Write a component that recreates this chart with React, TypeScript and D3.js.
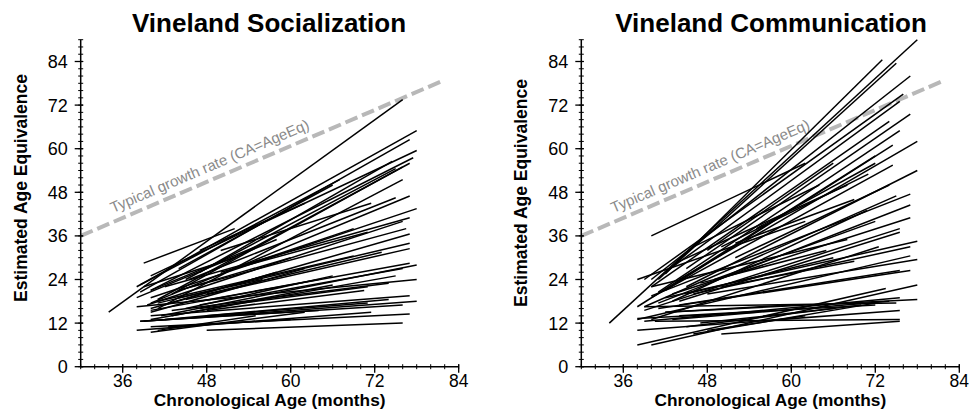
import * as d3 from 'd3';

const WIDTH = 969, HEIGHT = 413;

// each row: [start age, start AE, end age, end AE] in months
const socializationLines = [
  [34, 15, 76, 73.5],
  [39, 28.5, 52, 38],
  [38, 22, 78, 65],
  [38.5, 20.5, 77, 62.5],
  [40, 25, 78, 59.5],
  [40, 21, 77.5, 57.5],
  [41, 18.5, 77, 56],
  [43, 20, 76, 55],
  [45, 24, 75, 54.5],
  [47, 26, 74.5, 56.5],
  [41, 16, 76, 51.5],
  [38.5, 22.5, 67, 51.5],
  [44, 27, 66, 50],
  [47, 32, 62, 45],
  [45.5, 24, 75, 46.5],
  [40, 17.5, 77, 47],
  [50, 32, 71.5, 45],
  [40, 19, 78, 43.5],
  [42, 22, 77, 41],
  [39.5, 17, 76, 40],
  [44, 21, 76.5, 38],
  [40, 16, 77, 36.5],
  [50, 26, 71, 37],
  [52, 27, 69, 38],
  [41, 17.5, 77, 34],
  [45, 18.5, 77, 32.5],
  [48, 20, 73, 31.5],
  [41, 18, 69, 30.5],
  [41.5, 14, 78, 28],
  [40, 15.5, 77, 28.5],
  [47, 17, 76, 27],
  [40, 13, 75, 25],
  [43, 15.5, 74, 23],
  [38, 16.5, 78, 24],
  [47, 16, 71, 22],
  [48, 15.5, 70.5, 21],
  [43, 14, 66, 22.5],
  [42, 13, 74, 18.5],
  [39, 12.5, 78, 18],
  [40, 14, 77, 19.5],
  [38.5, 12.5, 76, 17],
  [48, 14, 71, 17.5],
  [40, 11, 77, 14.5],
  [38, 10, 71.5, 15],
  [48, 10, 76, 12],
  [40, 9.5, 62, 15],
  [41, 10, 55, 14],
  [42.5, 11, 60, 13],
  [38.5, 12.5, 64, 15.5],
  [38, 19, 58, 35],
  [40, 21, 55, 33],
  [39, 22, 52, 30],
  [44, 21, 60, 30],
  [40, 15, 62, 27],
  [42, 17, 58, 26],
  [44, 19, 56, 24],
  [47, 18, 64, 24],
  [45, 16, 66, 25],
];

const communicationLines = [
  [34, 12, 78, 90],
  [40, 36, 62, 56],
  [42, 25.5, 73, 84.5],
  [41, 24, 75, 83.5],
  [40, 24, 77, 80],
  [39, 24, 76, 75],
  [42, 26, 75.5, 73],
  [45, 27, 77, 69.5],
  [40, 22, 74, 67.5],
  [41, 20.5, 75.5, 65],
  [42, 21, 74.5, 61],
  [44, 24, 78, 62],
  [48, 32, 66, 56],
  [40, 19, 74.5, 55.5],
  [45, 22, 78, 54],
  [38, 16.5, 72, 58],
  [50, 33, 71, 53],
  [43, 18, 70.8, 43],
  [39, 16.5, 75, 47],
  [40, 19.5, 77, 47.5],
  [41, 17.5, 77, 44.5],
  [43, 20, 77, 41],
  [39, 15.5, 75.5, 38],
  [44, 18, 75.5, 37],
  [40, 13, 72.5, 33],
  [42, 19, 78, 34.5],
  [46, 20, 77, 33],
  [38, 13, 77, 30.5],
  [48, 20, 78, 29.5],
  [41, 16, 77, 26.5],
  [44, 17, 75.5, 26.5],
  [50, 22, 69, 29],
  [38, 6, 73.5, 21.5],
  [40, 6, 78, 22.5],
  [42, 15, 78, 18.5],
  [39, 12.5, 75.5, 19],
  [38, 10, 75.5, 15.5],
  [40.5, 12.5, 75.5, 13],
  [46, 9, 72, 17.5],
  [50, 9, 75.5, 12.5],
  [43, 13, 74, 18],
  [45, 11, 70, 17],
  [47, 12, 66, 16],
  [44, 14, 72, 17],
  [39, 16.5, 75, 17.5],
  [42, 15, 60, 17],
  [48, 10, 62, 14],
  [38, 13.3, 55, 15],
  [40, 22, 68, 35],
  [45, 20, 66, 30],
  [47, 23, 65, 32],
  [49, 24, 72, 40],
  [52, 30, 74, 50],
  [44, 29, 68, 50],
  [46, 33, 64, 50],
  [38, 24, 62, 40],
  [52, 34, 69, 46],
  [55, 38, 72, 56],
];

const typicalLine = [[30, 36], [81.5, 78.5]];
const xMajor = [36, 48, 60, 72, 84];
const yMajor = [0, 12, 24, 36, 48, 60, 72, 84];
const xMinor = d3.range(30, 85, 2);
const yMinor = d3.range(0, 91, 2);

const panels = [
  { title: 'Vineland Socialization', lines: socializationLines, left: 80.7, titleX: 269, ylabX: 26.5, ylabY: 188 },
  { title: 'Vineland Communication', lines: communicationLines, left: 581.3, titleX: 771, ylabX: 527, ylabY: 193 },
];

const FONT = 'Liberation Sans, Arial, Helvetica, sans-serif';

const Panel = ({ p }: { p: any }) => {
  const x = d3.scaleLinear().domain([30, 84]).range([p.left, p.left + 378]);
  const y = d3.scaleLinear().domain([0, 90]).range([366.7, 39.7]);
  const line = d3.line<number[]>().x((d) => x(d[0])).y((d) => y(d[1]));
  const [a, b] = typicalLine;
  const ang = (Math.atan2(y(b[1]) - y(a[1]), x(b[0]) - x(a[0])) * 180) / Math.PI;
  const tx = 34.6;
  const ty = a[1] + ((b[1] - a[1]) / (b[0] - a[0])) * (tx - a[0]);
  return (
    <g>
      <text x={p.titleX} y={31.5} textAnchor="middle" fontFamily={FONT} fontWeight="bold" fontSize={26}>
        {p.title}
      </text>
      <path d={line(typicalLine as any) || ''} stroke="#b8b8b8" strokeWidth={4} strokeDasharray="13 5" fill="none" />
      <g transform={`translate(${x(tx)},${y(ty) - 9}) rotate(${ang})`}>
        <text fontFamily={FONT} fontSize={15} fill="#8a8a8a">Typical growth rate (CA=AgeEq)</text>
      </g>
      {p.lines.map((l: number[], i: number) => (
        <path key={i} d={line([[l[0], l[1]], [l[2], l[3]]]) || ''} stroke="#000" strokeWidth={1.5} fill="none" />
      ))}
      {/* axes */}
      <line x1={x(30)} x2={x(84)} y1={y(0)} y2={y(0)} stroke="#000" strokeWidth={1.5} />
      <line x1={x(30)} x2={x(30)} y1={y(0)} y2={y(90)} stroke="#000" strokeWidth={1.5} />
      {xMinor.map((v) => (
        <line key={'xm' + v} x1={x(v)} x2={x(v)} y1={y(0) - 2.5} y2={y(0) + 2.5} stroke="#000" strokeWidth={1} />
      ))}
      {yMinor.map((v) => (
        <line key={'ym' + v} x1={x(30) - 2.5} x2={x(30) + 2.5} y1={y(v)} y2={y(v)} stroke="#000" strokeWidth={1} />
      ))}
      {xMajor.map((v) => (
        <g key={'xM' + v}>
          <line x1={x(v)} x2={x(v)} y1={y(0) - 2.5} y2={y(0) + 6} stroke="#000" strokeWidth={1.3} />
          <text x={x(v)} y={387} textAnchor="middle" fontFamily={FONT} fontSize={17.5}>{v}</text>
        </g>
      ))}
      {yMajor.map((v) => (
        <g key={'yM' + v}>
          <line x1={x(30) - 6} x2={x(30) + 2.5} y1={y(v)} y2={y(v)} stroke="#000" strokeWidth={1.3} />
          <text x={x(30) - 13} y={y(v) + 6.5} textAnchor="end" fontFamily={FONT} fontSize={18}>{v}</text>
        </g>
      ))}
      <text x={x(57)} y={406} textAnchor="middle" fontFamily={FONT} fontWeight="bold" fontSize={17.3}>
        Chronological Age (months)
      </text>
      <text transform={`translate(${p.ylabX},${p.ylabY}) rotate(-90)`} textAnchor="middle" fontFamily={FONT} fontWeight="bold" fontSize={17.5}>
        Estimated Age Equivalence
      </text>
    </g>
  );
};

const App = () => (
  <svg width={WIDTH} height={HEIGHT} style={{ position: 'absolute', left: 0, top: 0, background: '#fff' }}>
    {panels.map((p) => (
      <Panel key={p.title} p={p} />
    ))}
  </svg>
);

export default App;
